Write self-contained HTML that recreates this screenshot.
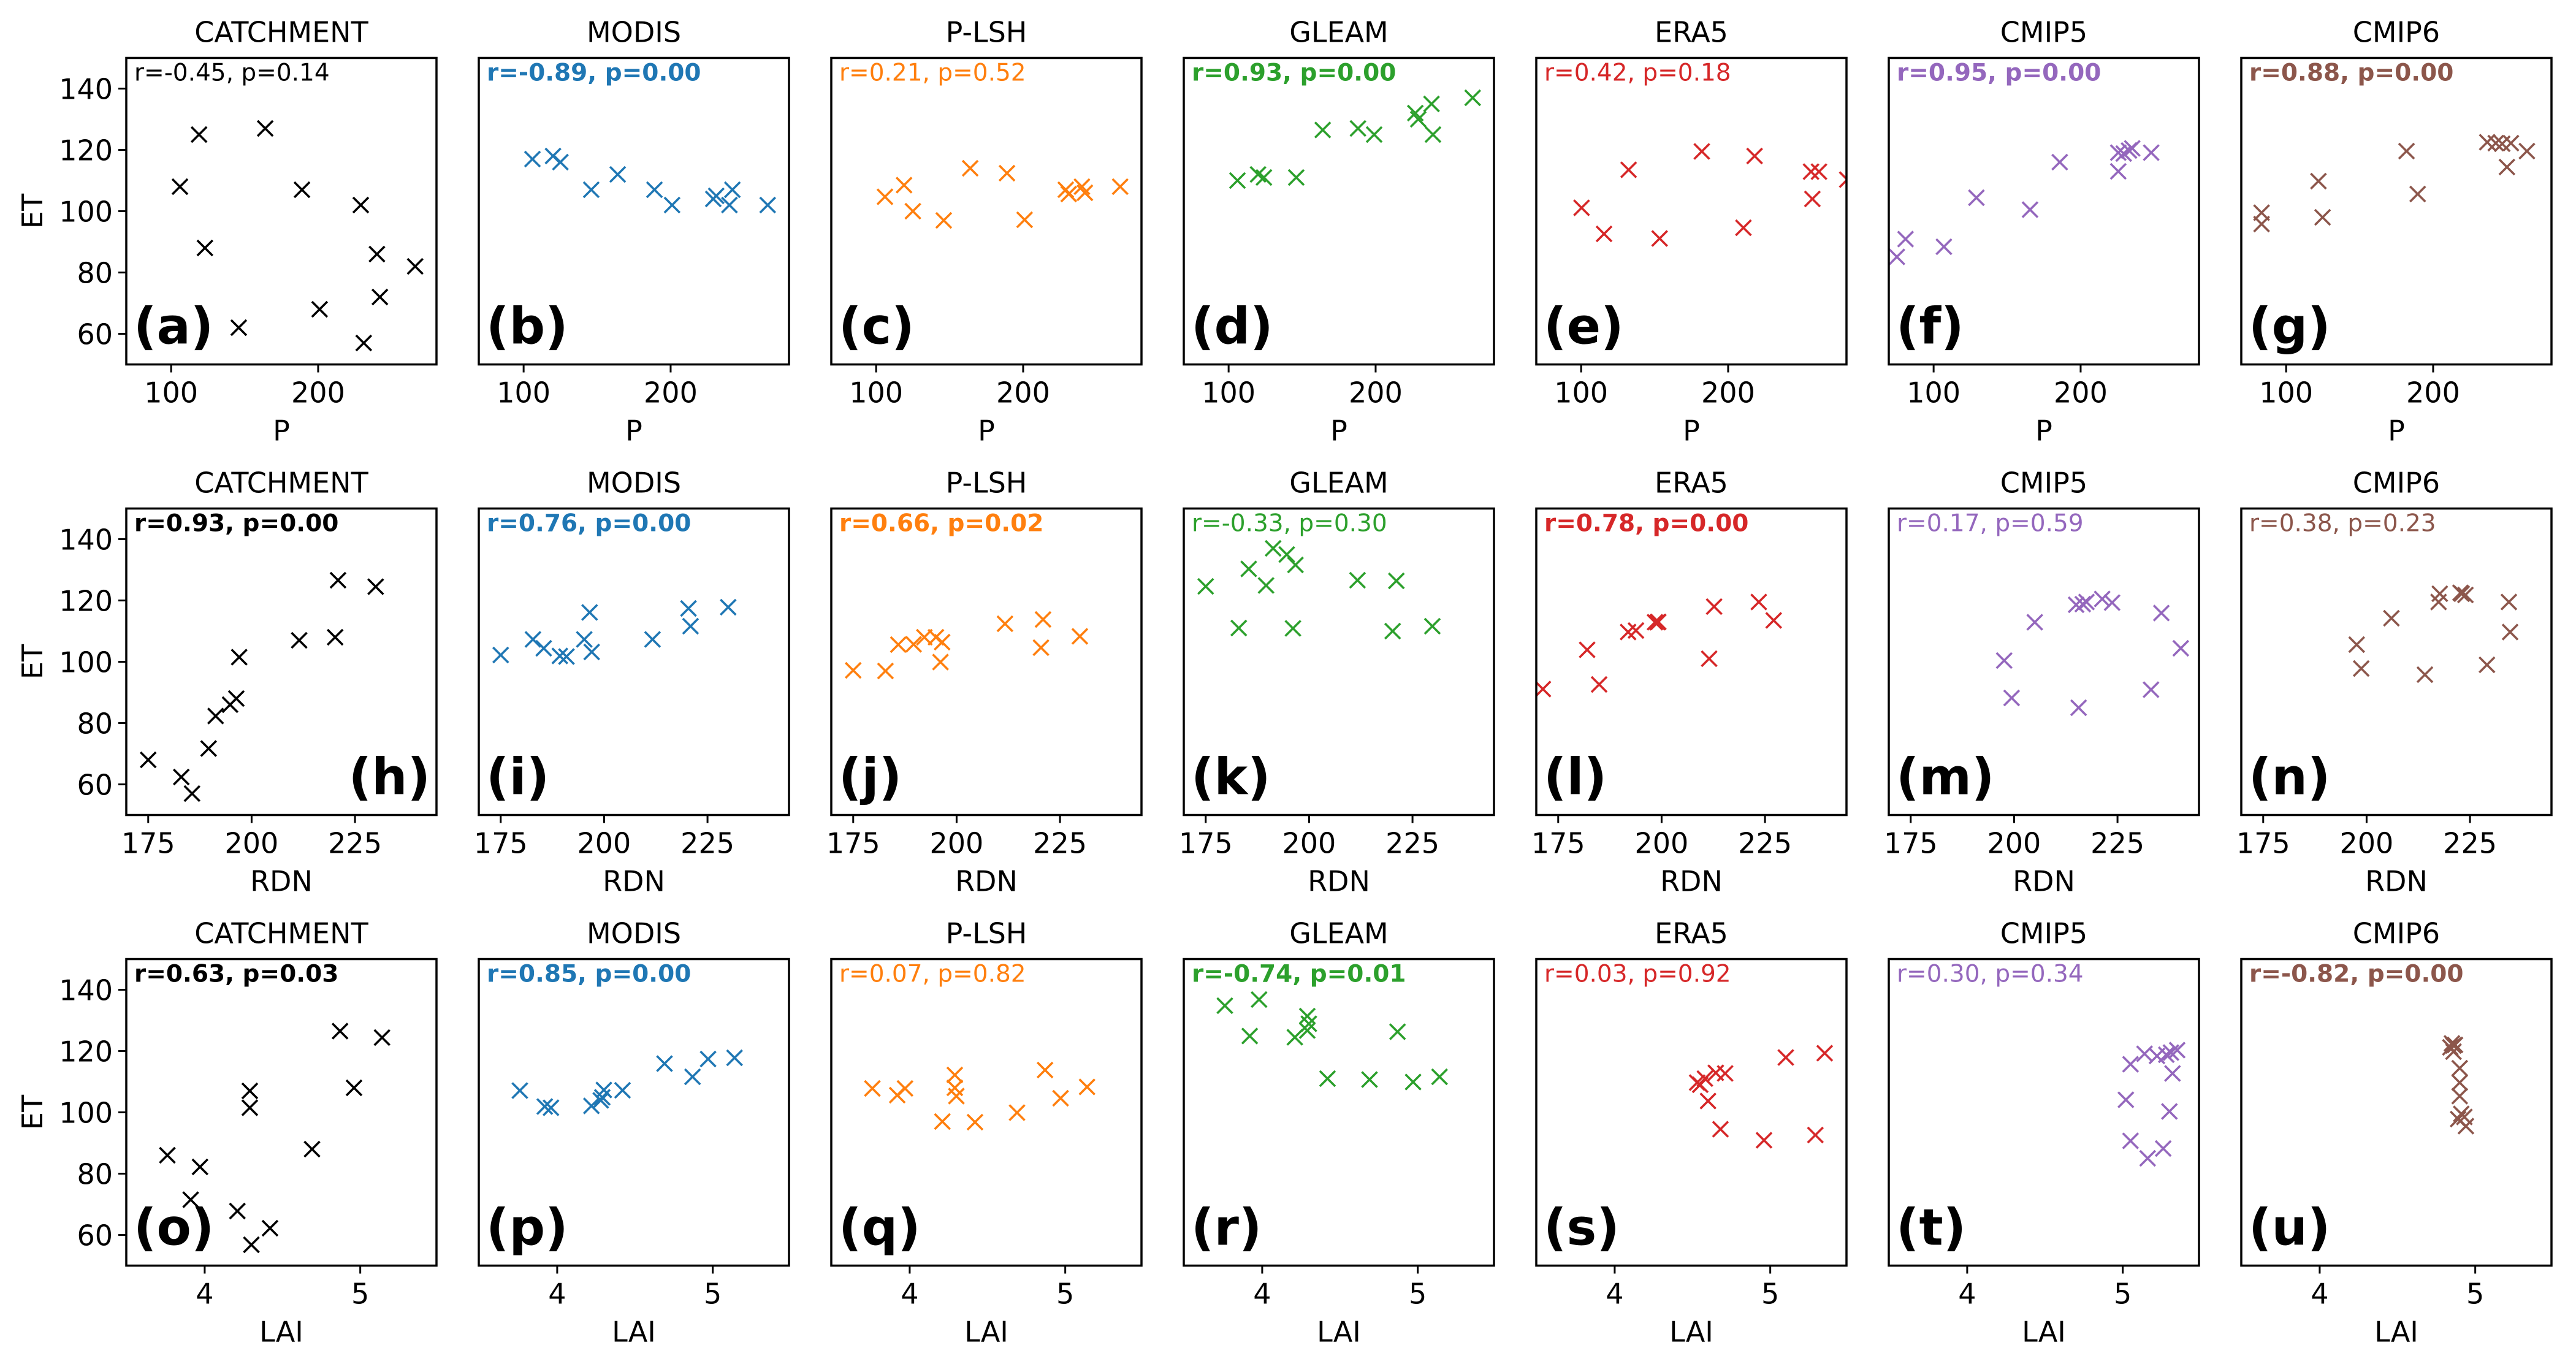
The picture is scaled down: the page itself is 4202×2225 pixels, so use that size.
<!DOCTYPE html>
<html><head><meta charset="utf-8">
<style>
html,body{margin:0;padding:0;background:#fff;}
svg{display:block;}
text{font-family:"DejaVu Sans","Liberation Sans",sans-serif;}
</style></head>
<body>
<svg id="fig" xmlns="http://www.w3.org/2000/svg" width="4202" height="2225" viewBox="0 0 4202 2225"></svg>
<script>
// ---- data (x values per panel) ----
const xA=[106,119,123,146,164,189,201,229,231,240,242,266];
const yA=[108,125,88,62,127,107,68,102,57,86,72,82];
const xB=[106,120,125,146,164,189,201,229,231,240,242,266];
const yB=[117,118,116,107,112,107,102,104,105,102,107,102];
const xC=[106,119,125,146,164,189,201,229,231,240,242,266];
const yC=[104.7,108.5,100,97,114,112.4,97.2,107,105.6,108,106,108];
const xD=[106,120,124,146,164,188,199,227,229,238,239,266];
const yD=[110,112,111,111,126.5,127,125,132,130,135,125,137];
const xE=[100.3,115.6,132.3,153.4,182.1,210.4,218,256.4,261.8,257.3,281];
const yE=[101.1,92.6,113.5,91.1,119.5,94.6,118,112.9,112.9,104,110.3];
const xF=[75,80.9,107,129.1,165.6,185.8,225.6,225.6,229.3,232.9,235.1,248];
const yF=[85.1,90.9,88.4,104.4,100.5,116,113,119.1,118.8,119.8,120.5,119.1];
const xG=[83.3,83.3,122,124.8,181.9,189.5,236.8,242.6,247,252.9,263.8,250.2];
const yG=[99.5,95.8,109.8,98,119.6,105.6,122.5,122.2,122,122.2,119.6,114.4];

const xH=[175,183,185.6,189.6,191.3,194.8,196.3,197,211.5,220.2,220.9,230];
const yH=[68,62.4,57,71.7,82.3,86,88,101.5,107,108,126.6,124.5];
const xI=[175,182.8,185.4,189.3,190.9,195.2,196.5,197,211.7,220.4,220.9,230];
const yI=[102.2,107.3,104.4,101.9,101.7,107.3,116.1,103.2,107.3,117.4,111.6,117.8];
const xJ=[175,182.8,185.9,189.6,192.2,195,196.5,196.1,211.7,220.4,220.9,229.8];
const yJ=[97.2,97,105.6,105.7,108,108,106.4,99.9,112.4,104.6,113.8,108.3];
const xK=[175,183,185.4,189.6,191.3,194.6,196.1,196.7,211.7,220.2,221.1,229.8];
const yK=[124.6,111,130.3,124.9,137,135,110.9,131.6,126.6,110,126.4,111.6];
const xL=[171.3,182,184.9,191.9,193.8,198.4,199.2,199,211.5,212.7,223.5,227.1];
const yL=[91.1,103.9,92.6,109.7,110.2,112.9,113,112.9,101,118,119.5,113.5];
const xM=[197.6,199.4,205,215,215.6,216.6,217.5,221.3,223.7,233.1,235.6,240.3];
const yM=[100.4,88.2,112.9,118.6,85,118.8,119.5,120.5,119.3,90.9,115.9,104.4];
const xN=[197.6,198.7,206,214.1,217.4,217.7,222.7,223,223.9,229.1,234.4,234.7];
const yN=[105.6,97.8,114.2,95.8,119.5,122.2,122.5,122.2,121.8,99,119.5,109.7];

const xO=[3.76,3.97,3.91,4.21,4.29,4.29,4.30,4.42,4.69,4.87,4.96,5.14];
const yO=[86,82.2,71.5,67.8,107,101.5,56.8,62.2,88,126.5,108,124.4];
const xP=[3.76,3.92,3.96,4.22,4.28,4.30,4.29,4.42,4.69,4.87,4.97,5.14];
const yP=[107.1,101.9,101.5,102.1,103.9,107.3,104.9,107.2,115.9,111.6,117.4,117.8];
const xQ=[3.76,3.92,3.97,4.21,4.29,4.29,4.30,4.42,4.69,4.87,4.97,5.14];
const yQ=[107.8,105.6,107.8,97,112.2,108,105.3,96.8,99.9,113.8,104.6,108.3];
const xR=[3.76,3.92,3.98,4.21,4.29,4.29,4.30,4.87,4.42,4.69,4.97,5.14];
const yR=[134.8,124.9,136.8,124.5,131.4,126.7,128.9,126.3,111,110.7,109.9,111.6];
const xS=[4.53,4.55,4.58,4.60,4.65,4.71,4.68,4.96,5.10,5.29,5.35];
const yS=[109.7,109,111,103.7,112.9,112.7,94.5,90.9,117.9,92.6,119.3];
const xT=[5.05,5.14,5.22,5.28,5.31,5.35,5.32,5.02,5.30,5.05,5.26,5.16];
const yT=[115.7,119.1,118.4,118.8,119.5,120.3,112.7,104.1,100.3,90.7,88.2,85];
const xU=[4.85,4.86,4.84,4.87,4.86,4.90,4.90,4.90,4.91,4.89,4.93,4.94];
const yU=[122.5,121.8,121.2,122,119.8,114.4,109.7,105.3,99.5,97.8,98.5,95.5];

const titles=["CATCHMENT","MODIS","P-LSH","GLEAM","ERA5","CMIP5","CMIP6"];
const colors=["#000000","#1f77b4","#ff7f0e","#2ca02c","#d62728","#9467bd","#8c564b"];
const rowVars=["P","RDN","LAI"];
const xTicks=[[100,200],[175,200,225],[4,5]];
const yTicks=[60,80,100,120,140];
const annot=[
 ["r=-0.45, p=0.14","r=-0.89, p=0.00","r=0.21, p=0.52","r=0.93, p=0.00","r=0.42, p=0.18","r=0.95, p=0.00","r=0.88, p=0.00"],
 ["r=0.93, p=0.00","r=0.76, p=0.00","r=0.66, p=0.02","r=-0.33, p=0.30","r=0.78, p=0.00","r=0.17, p=0.59","r=0.38, p=0.23"],
 ["r=0.63, p=0.03","r=0.85, p=0.00","r=0.07, p=0.82","r=-0.74, p=0.01","r=0.03, p=0.92","r=0.30, p=0.34","r=-0.82, p=0.00"]];
const bold=[[0,1,0,1,0,1,1],[1,1,1,0,1,0,0],[1,1,0,1,0,0,1]];
const letters="abcdefghijklmnopqrstu";
const X=[[xA,xB,xC,xD,xE,xF,xG],[xH,xI,xJ,xK,xL,xM,xN],[xO,xP,xQ,xR,xS,xT,xU]];
const Y=[[yA,yB,yC,yD,yE,yF,yG],[yH,yI,yJ,yK,yL,yM,yN],[yO,yP,yQ,yR,yS,yT,yU]];

// ---- layout ----
const COL0=206, COLSTEP=575, W=506, ROW0=94.5, ROWSTEP=735, H=500;
const xlims=[[69.5,280.5],[169.7,244.7],[3.496,5.49]];
const ylim=[50,150];
const NS="http://www.w3.org/2000/svg";
const svg=document.getElementById('fig');
function mk(tag,attrs,parent){const e=document.createElementNS(NS,tag);for(const k in attrs)e.setAttribute(k,attrs[k]);(parent||svg).appendChild(e);return e;}
const defs=mk('defs',{});

for(let r=0;r<3;r++){
 for(let c=0;c<7;c++){
  const L=COL0+c*COLSTEP, T=ROW0+r*ROWSTEP;
  const xs=v=>L+(v-xlims[r][0])/(xlims[r][1]-xlims[r][0])*W;
  const ys=v=>T+H-(v-ylim[0])/(ylim[1]-ylim[0])*H;
  const g=mk('g',{});
  
  
  const cp=mk('clipPath',{id:'cp'+r+c},defs);
  mk('rect',{x:L,y:T,width:W,height:H},cp);
  const t=mk('text',{x:L+W/2,y:T-26,'text-anchor':'middle','font-size':46,fill:'#000'},g);
  t.textContent=titles[c];
  
  
  const pg=mk('g',{'clip-path':'url(#cp'+r+c+')',stroke:colors[c],'stroke-width':3.6,fill:'none'},g);
  
  
  const xv=X[r][c], yv=Y[r][c];
  for(let i=0;i<xv.length;i++){
   const px=xs(xv[i]), py=ys(yv[i]), s=12.5;
   const m=mk('path',{d:`M${px-s},${py-s}L${px+s},${py+s}M${px-s},${py+s}L${px+s},${py-s}`},pg);
   
   
  }
  const fr=mk('rect',{x:L,y:T,width:W,height:H,fill:'none',stroke:'#000','stroke-width':3.5},g);
  
  
  for(const tv of xTicks[r]){
   const px=xs(tv);
   const tl=mk('line',{x1:px,y1:T+H,x2:px,y2:T+H+13,stroke:'#000','stroke-width':3},g);
   
   
   const tt=mk('text',{x:px,y:T+H+62,'text-anchor':'middle','font-size':46,fill:'#000'},g);
   tt.textContent=tv;
   
   
  }
  const xl=mk('text',{x:L+W/2,y:T+H+124,'text-anchor':'middle','font-size':46,fill:'#000'},g);
  xl.textContent=rowVars[r];
  
  
  if(c===0){
   for(const tv of yTicks){
    const py=ys(tv);
    const tl=mk('line',{x1:L-13,y1:py,x2:L,y2:py,stroke:'#000','stroke-width':3},g);
    
    
    const tt=mk('text',{x:L-22,y:py+17,'text-anchor':'end','font-size':46,fill:'#000'},g);
    tt.textContent=tv;
    
    
   }
   const yl=mk('text',{x:0,y:0,'text-anchor':'middle','font-size':46,fill:'#000',transform:`translate(${L-137},${T+H/2}) rotate(-90)`},g);
   yl.textContent='ET';
   
   
  }
  const an=mk('text',{x:L+13,y:T+37,'font-size':39,fill:colors[c],'font-weight':bold[r][c]?'bold':'normal'},g);
  an.textContent=annot[r][c];
  
  
  const isH=(r===1&&c===0);
  const pl=mk('text',{x:isH?L+W-10:L+12,y:T+H-34,'text-anchor':isH?'end':'start','font-size':82,'font-weight':'bold',fill:'#000'},g);
  pl.textContent='('+letters[r*7+c]+')';
  
  
 }
}
</script>
</body></html>
